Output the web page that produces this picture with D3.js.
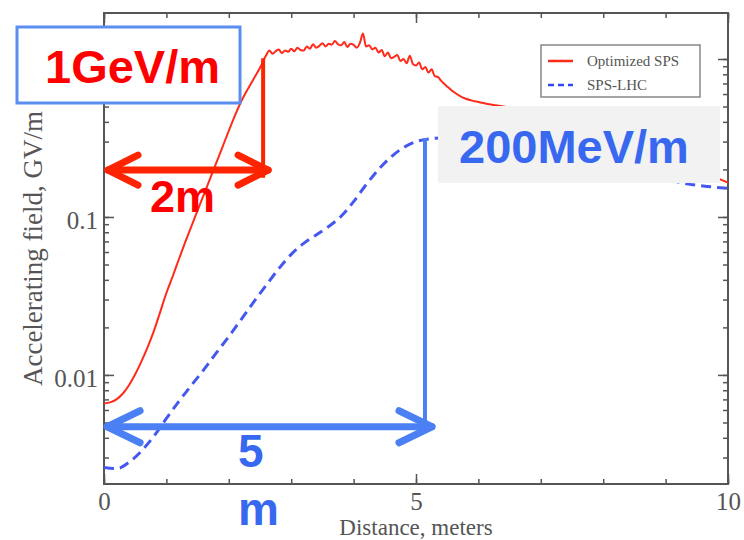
<!DOCTYPE html>
<html>
<head>
<meta charset="utf-8">
<title>Accelerating field vs distance</title>
<style>
body { margin: 0; background: #fff; }
svg { display: block; }
.axis text { font-family: "Liberation Serif", "DejaVu Serif", serif; font-size: 25px; fill: #555; }
.axis line { stroke: #555; stroke-width: 1.5; }
.axis .domain { display: none; }
.note { font-family: "Liberation Sans", Arial, sans-serif; font-weight: bold; }
</style>
<script src="https://cdn.jsdelivr.net/npm/d3@7"></script>
</head>
<body>
<svg width="744" height="540"></svg>
<script>
// Optimized SPS (red, noisy plateau)
var optDist = [0, 0.1, 0.2, 0.3, 0.4, 0.5, 0.6, 0.7, 0.8, 0.9, 1.0, 1.1, 1.2, 1.3, 1.5, 1.7, 1.9, 2.1, 2.2, 2.3, 2.4, 2.5,
  2.60, 2.65, 2.70, 2.75, 2.80, 2.85, 2.90, 2.95, 3.00, 3.05, 3.10, 3.15, 3.20, 3.25, 3.30, 3.35, 3.40, 3.45,
  3.50, 3.55, 3.60, 3.65, 3.70, 3.75, 3.80, 3.85, 3.90, 3.95, 4.00, 4.05, 4.10, 4.15, 4.20, 4.25, 4.30, 4.35,
  4.40, 4.45, 4.50, 4.55, 4.60, 4.65, 4.70, 4.75, 4.80, 4.85, 4.90, 4.95, 5.00, 5.05, 5.10, 5.15, 5.20, 5.25,
  5.30, 5.35, 5.40, 5.50, 5.60, 5.70, 5.80, 5.90, 6.00, 6.20, 6.40, 6.70, 7.00, 7.50, 8.00, 8.50, 9.00, 9.50, 10.0];
var optField = [0.0066, 0.0067, 0.0070, 0.0076, 0.0086, 0.0101, 0.0122, 0.0150, 0.019, 0.025, 0.033, 0.042, 0.054, 0.069, 0.110, 0.175, 0.278, 0.44, 0.54, 0.64, 0.75, 0.88,
  1.06, 1.13, 1.08, 1.12, 1.15, 1.09, 1.13, 1.11, 1.16, 1.12, 1.18, 1.14, 1.13, 1.20, 1.16, 1.24, 1.18, 1.21,
  1.26, 1.20, 1.25, 1.23, 1.30, 1.24, 1.22, 1.28, 1.19, 1.25, 1.23, 1.18, 1.26, 1.45, 1.20, 1.22, 1.15, 1.18,
  1.10, 1.14, 1.04, 1.10, 1.01, 1.03, 1.06, 0.97, 1.00, 0.94, 1.05, 0.93, 0.91, 0.95, 0.86, 0.89, 0.82, 0.86,
  0.78, 0.77, 0.73, 0.67, 0.62, 0.585, 0.56, 0.545, 0.535, 0.515, 0.50, 0.47, 0.44, 0.40, 0.35, 0.30, 0.25, 0.20, 0.165];

// SPS-LHC (blue dashed)
var lhcDist = [0, 0.2, 0.4, 0.6, 0.8, 1.0, 1.2, 1.4, 1.6, 1.8, 2.0, 2.2, 2.4, 2.6, 2.8, 3.0, 3.2, 3.4, 3.6, 3.8,
  4.0, 4.2, 4.4, 4.6, 4.8, 5.0, 5.2, 5.4, 6.0, 7.0, 8.0, 9.0, 9.3, 9.6, 10.0];
var lhcField = [0.0026, 0.00255, 0.0028, 0.0033, 0.0041, 0.0053, 0.0068, 0.0086, 0.0108, 0.0138, 0.0175, 0.0225, 0.029, 0.037, 0.047, 0.058, 0.068, 0.077, 0.087, 0.101,
  0.125, 0.16, 0.20, 0.24, 0.275, 0.30, 0.312, 0.316, 0.31, 0.28, 0.235, 0.175, 0.163, 0.157, 0.152];

var seriesNames = ["Optimized SPS", "SPS-LHC"];
var xTicks = [0, 5, 10];
var yTicks = [0.01, 0.1, 1];
var yLabels = [0.01, 0.1];   // the "1" label sits under the 1GeV/m box
var xRange = [0, 10];
var yRange = [0.00204, 1.955];

var svg = d3.select("svg"),
    margin = {top: 13, right: 16, bottom: 56, left: 104},
    width = +svg.attr("width") - margin.left - margin.right,
    height = +svg.attr("height") - margin.top - margin.bottom,
    g = svg.append("g").attr("transform", "translate(" + margin.left + "," + margin.top + ")");

var x = d3.scaleLinear().domain(xRange).range([0, width]);
var y = d3.scaleLog().domain(yRange).range([height, 0]);

var xMinor = d3.range(xRange[0], xRange[1] + 1, 1);
var yMinor = y.ticks();

// minor ticks on all sides
g.append("g").attr("class", "axis").attr("transform", "translate(0," + height + ")")
  .call(d3.axisBottom(x).tickValues(xMinor).tickSize(-5).tickFormat(""));
g.append("g").attr("class", "axis")
  .call(d3.axisTop(x).tickValues(xMinor).tickSize(-5).tickFormat(""));
g.append("g").attr("class", "axis")
  .call(d3.axisLeft(y).tickValues(yMinor).tickSize(-5).tickFormat(""));
g.append("g").attr("class", "axis").attr("transform", "translate(" + width + ",0)")
  .call(d3.axisRight(y).tickValues(yMinor).tickSize(-5).tickFormat(""));

// major ticks
g.append("g").attr("class", "axis").attr("transform", "translate(0," + height + ")")
  .call(d3.axisBottom(x).tickValues(xTicks).tickSize(-10).tickPadding(8).tickFormat(d3.format("d")));
g.append("g").attr("class", "axis")
  .call(d3.axisTop(x).tickValues(xTicks).tickSize(-10).tickFormat(""));
g.append("g").attr("class", "axis")
  .call(d3.axisLeft(y).tickValues(yTicks).tickSize(-10).tickFormat(""));
g.append("g").attr("class", "axis")
  .call(d3.axisLeft(y).tickValues(yLabels).tickSize(0).tickPadding(6).tickFormat(function(d) { return String(d); }))
  .selectAll("text").attr("dy", "0.45em");
g.append("g").attr("class", "axis").attr("transform", "translate(" + width + ",0)")
  .call(d3.axisRight(y).tickValues(yTicks).tickSize(-10).tickFormat(""));

g.append("rect")
  .attr("width", width).attr("height", height)
  .attr("fill", "none").attr("stroke", "#555").attr("stroke-width", 2);

// axis titles
g.append("text")
  .attr("x", width / 2).attr("y", height + 51)
  .attr("text-anchor", "middle")
  .attr("font-family", "Liberation Serif, serif").attr("font-size", 23).attr("fill", "#555")
  .text("Distance, meters");
svg.append("text")
  .attr("transform", "translate(42," + (margin.top + height / 2) + ") rotate(-90)")
  .attr("text-anchor", "middle")
  .attr("font-family", "Liberation Serif, serif").attr("font-size", 27).attr("fill", "#555")
  .text("Accelerating field, GV/m");

// curves
g.append("clipPath").attr("id", "plotclip").append("rect").attr("width", width).attr("height", height);

var line = d3.line()
  .x(function(d) { return x(d[0]); })
  .y(function(d) { return y(d[1]); })
  .curve(d3.curveMonotoneX);

var optData = optDist.map(function(d, i) { return [d, optField[i]]; });
var lhcData = lhcDist.map(function(d, i) { return [d, lhcField[i]]; });

var plot = g.append("g").attr("clip-path", "url(#plotclip)");
plot.append("path").datum(optData)
  .attr("d", line).attr("fill", "none")
  .attr("stroke", "#ff2a1a").attr("stroke-width", 2);
plot.append("path").datum(lhcData)
  .attr("d", line).attr("fill", "none")
  .attr("stroke", "#4458f0").attr("stroke-width", 3).attr("stroke-dasharray", "10,6");

// legend
var legend = g.append("g").attr("transform", "translate(" + (width - 187) + ",32)");
legend.append("rect")
  .attr("width", 159).attr("height", 52)
  .attr("fill", "#fff").attr("stroke", "#888").attr("stroke-width", 1.5);
var item = legend.selectAll(".item").data(seriesNames).enter().append("g")
  .attr("transform", function(d, i) { return "translate(0," + (16 + i * 24) + ")"; });
item.append("line")
  .attr("x1", 7).attr("x2", 32)
  .attr("stroke", function(d, i) { return i == 0 ? "#ff2a1a" : "#3048f5"; })
  .attr("stroke-width", 2.5)
  .attr("stroke-dasharray", function(d, i) { return i == 0 ? null : "6,4"; });
item.append("text")
  .attr("x", 46).attr("dy", "0.35em")
  .attr("font-family", "Liberation Serif, serif").attr("font-size", 15).attr("fill", "#555")
  .text(function(d) { return d; });

// annotations
function chevrons(sel, x0, x1, yy, dx, dy, color, w) {
  var a = sel.append("g").attr("fill", "none").attr("stroke", color)
    .attr("stroke-width", w).attr("stroke-linecap", "round").attr("stroke-linejoin", "round");
  a.append("path").attr("d", "M" + x0 + "," + yy + "H" + x1);
  a.append("path").attr("d", "M" + (x0 + dx) + "," + (yy - dy) + "L" + x0 + "," + yy + "L" + (x0 + dx) + "," + (yy + dy));
  a.append("path").attr("d", "M" + (x1 - dx) + "," + (yy - dy) + "L" + x1 + "," + yy + "L" + (x1 - dx) + "," + (yy + dy));
}

var red = "#ff2400", blue = "#4a80f4";

// red: 2m to reach 1 GeV/m
g.append("line")
  .attr("x1", x(2.55)).attr("x2", x(2.55))
  .attr("y1", y(1.01)).attr("y2", y(0.177))
  .attr("stroke", red).attr("stroke-width", 4);
chevrons(g, x(0.064), x(2.63), y(0.198), 30, 15, red, 7);

// blue: 5 m to reach 200 MeV/m
g.append("line")
  .attr("x1", x(5.144)).attr("x2", x(5.144))
  .attr("y1", y(0.316)).attr("y2", y(0.0047))
  .attr("stroke", blue).attr("stroke-width", 4);
chevrons(g, x(0.05), x(5.256), y(0.0047), 33, 16, blue, 7);

svg.append("rect")
  .attr("x", 17).attr("y", 27).attr("width", 223).attr("height", 76)
  .attr("fill", "#fff").attr("stroke", "#5a8ef0").attr("stroke-width", 3);
svg.append("text").attr("class", "note")
  .attr("x", 45).attr("y", 83).attr("font-size", 47).attr("fill", "#ff0000")
  .text("1GeV/m");
svg.append("text").attr("class", "note")
  .attr("x", 150).attr("y", 212).attr("font-size", 45).attr("fill", "#ff0000")
  .text("2m");

svg.append("rect")
  .attr("x", 438).attr("y", 106).attr("width", 282).attr("height", 77)
  .attr("fill", "#f2f2f2");
svg.append("text").attr("class", "note")
  .attr("x", 459).attr("y", 163).attr("font-size", 47).attr("fill", "#3868f0")
  .text("200MeV/m");
svg.append("text").attr("class", "note")
  .attr("x", 238).attr("y", 467).attr("font-size", 46).attr("fill", "#3868f0")
  .text("5");
svg.append("text").attr("class", "note")
  .attr("x", 238).attr("y", 525).attr("font-size", 46).attr("fill", "#3868f0")
  .text("m");
</script>
</body>
</html>
